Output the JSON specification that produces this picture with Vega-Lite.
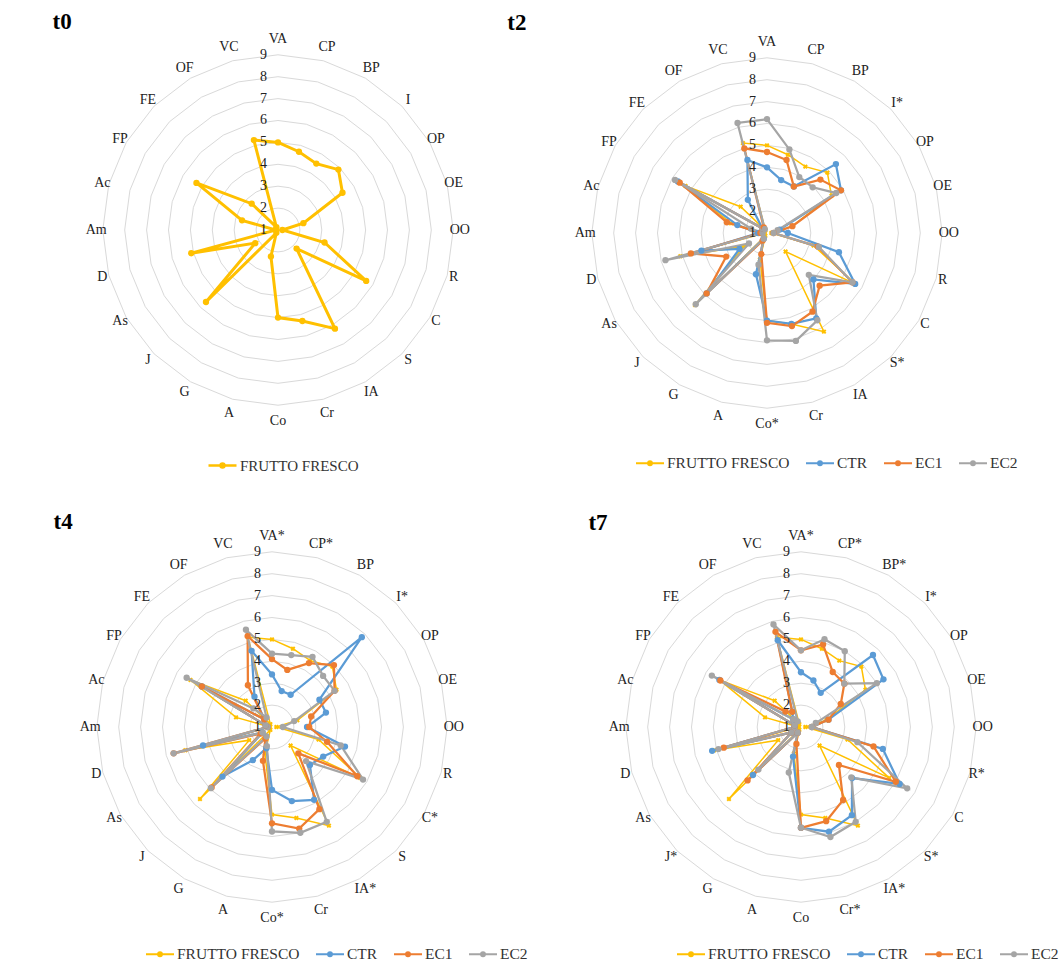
{
"$schema": "https://vega.github.io/schema/vega-lite/v6.json",
"padding": 0,
"background": "white",
"config": {"view": {"stroke": null}},
"datasets": {
"axes": [
{"axis":"VA","k":0},{"axis":"CP","k":1},{"axis":"BP","k":2},{"axis":"I","k":3},{"axis":"OP","k":4},{"axis":"OE","k":5},{"axis":"OO","k":6},{"axis":"R","k":7},{"axis":"C","k":8},{"axis":"S","k":9},{"axis":"IA","k":10},{"axis":"Cr","k":11},{"axis":"Co","k":12},{"axis":"A","k":13},{"axis":"G","k":14},{"axis":"J","k":15},{"axis":"As","k":16},{"axis":"D","k":17},{"axis":"Am","k":18},{"axis":"Ac","k":19},{"axis":"FP","k":20},{"axis":"FE","k":21},{"axis":"OF","k":22},{"axis":"VC","k":23}
],
"labels": [
{"axis":"VA","t0":"VA","t2":"VA","t4":"VA*","t7":"VA*"},
{"axis":"CP","t0":"CP","t2":"CP","t4":"CP*","t7":"CP*"},
{"axis":"BP","t0":"BP","t2":"BP","t4":"BP","t7":"BP*"},
{"axis":"I","t0":"I","t2":"I*","t4":"I*","t7":"I*"},
{"axis":"OP","t0":"OP","t2":"OP","t4":"OP","t7":"OP"},
{"axis":"OE","t0":"OE","t2":"OE","t4":"OE","t7":"OE"},
{"axis":"OO","t0":"OO","t2":"OO","t4":"OO","t7":"OO"},
{"axis":"R","t0":"R","t2":"R","t4":"R","t7":"R*"},
{"axis":"C","t0":"C","t2":"C","t4":"C*","t7":"C"},
{"axis":"S","t0":"S","t2":"S*","t4":"S","t7":"S*"},
{"axis":"IA","t0":"IA","t2":"IA","t4":"IA*","t7":"IA*"},
{"axis":"Cr","t0":"Cr","t2":"Cr","t4":"Cr","t7":"Cr*"},
{"axis":"Co","t0":"Co","t2":"Co*","t4":"Co*","t7":"Co"},
{"axis":"A","t0":"A","t2":"A","t4":"A","t7":"A"},
{"axis":"G","t0":"G","t2":"G","t4":"G","t7":"G"},
{"axis":"J","t0":"J","t2":"J","t4":"J","t7":"J*"},
{"axis":"As","t0":"As","t2":"As","t4":"As","t7":"As"},
{"axis":"D","t0":"D","t2":"D","t4":"D","t7":"D"},
{"axis":"Am","t0":"Am","t2":"Am","t4":"Am","t7":"Am"},
{"axis":"Ac","t0":"Ac","t2":"Ac","t4":"Ac","t7":"Ac"},
{"axis":"FP","t0":"FP","t2":"FP","t4":"FP","t7":"FP"},
{"axis":"FE","t0":"FE","t2":"FE","t4":"FE","t7":"FE"},
{"axis":"OF","t0":"OF","t2":"OF","t4":"OF","t7":"OF"},
{"axis":"VC","t0":"VC","t2":"VC","t4":"VC","t7":"VC"}
],
"rings": [
{"level":1,"k":[0,1,2,3,4,5,6,7,8,9,10,11,12,13,14,15,16,17,18,19,20,21,22,23]},
{"level":2,"k":[0,1,2,3,4,5,6,7,8,9,10,11,12,13,14,15,16,17,18,19,20,21,22,23]},
{"level":3,"k":[0,1,2,3,4,5,6,7,8,9,10,11,12,13,14,15,16,17,18,19,20,21,22,23]},
{"level":4,"k":[0,1,2,3,4,5,6,7,8,9,10,11,12,13,14,15,16,17,18,19,20,21,22,23]},
{"level":5,"k":[0,1,2,3,4,5,6,7,8,9,10,11,12,13,14,15,16,17,18,19,20,21,22,23]},
{"level":6,"k":[0,1,2,3,4,5,6,7,8,9,10,11,12,13,14,15,16,17,18,19,20,21,22,23]},
{"level":7,"k":[0,1,2,3,4,5,6,7,8,9,10,11,12,13,14,15,16,17,18,19,20,21,22,23]},
{"level":8,"k":[0,1,2,3,4,5,6,7,8,9,10,11,12,13,14,15,16,17,18,19,20,21,22,23]},
{"level":9,"k":[0,1,2,3,4,5,6,7,8,9,10,11,12,13,14,15,16,17,18,19,20,21,22,23]}
],
"vals": [
{"panel":"t0","axis":"VA","FRUTTO FRESCO":5.0},
{"panel":"t0","axis":"CP","FRUTTO FRESCO":4.7},
{"panel":"t0","axis":"BP","FRUTTO FRESCO":4.5},
{"panel":"t0","axis":"I","FRUTTO FRESCO":4.9},
{"panel":"t0","axis":"OP","FRUTTO FRESCO":4.4},
{"panel":"t0","axis":"OE","FRUTTO FRESCO":2.2},
{"panel":"t0","axis":"OO","FRUTTO FRESCO":1.2},
{"panel":"t0","axis":"R","FRUTTO FRESCO":3.2},
{"panel":"t0","axis":"C","FRUTTO FRESCO":5.65},
{"panel":"t0","axis":"S","FRUTTO FRESCO":2.2},
{"panel":"t0","axis":"IA","FRUTTO FRESCO":6.2},
{"panel":"t0","axis":"Cr","FRUTTO FRESCO":5.3},
{"panel":"t0","axis":"Co","FRUTTO FRESCO":5.0},
{"panel":"t0","axis":"A","FRUTTO FRESCO":2.25},
{"panel":"t0","axis":"G","FRUTTO FRESCO":1.15},
{"panel":"t0","axis":"J","FRUTTO FRESCO":5.65},
{"panel":"t0","axis":"As","FRUTTO FRESCO":2.2},
{"panel":"t0","axis":"D","FRUTTO FRESCO":5.1},
{"panel":"t0","axis":"Am","FRUTTO FRESCO":1.1},
{"panel":"t0","axis":"Ac","FRUTTO FRESCO":2.7},
{"panel":"t0","axis":"FP","FRUTTO FRESCO":5.3},
{"panel":"t0","axis":"FE","FRUTTO FRESCO":2.7},
{"panel":"t0","axis":"OF","FRUTTO FRESCO":1.15},
{"panel":"t0","axis":"VC","FRUTTO FRESCO":5.25},

{"panel":"t2","axis":"VA","FRUTTO FRESCO":5.0,"CTR":4.0,"EC1":4.7,"EC2":6.2},
{"panel":"t2","axis":"CP","FRUTTO FRESCO":4.7,"CTR":3.5,"EC1":4.45,"EC2":4.95},
{"panel":"t2","axis":"BP","FRUTTO FRESCO":4.5,"CTR":3.45,"EC1":3.45,"EC2":3.95},
{"panel":"t2","axis":"I","FRUTTO FRESCO":4.9,"CTR":5.45,"EC1":4.45,"EC2":3.95},
{"panel":"t2","axis":"OP","FRUTTO FRESCO":4.4,"CTR":4.9,"EC1":4.9,"EC2":4.65},
{"panel":"t2","axis":"OE","FRUTTO FRESCO":2.2,"CTR":1.6,"EC1":2.2,"EC2":1.5},
{"panel":"t2","axis":"OO","FRUTTO FRESCO":1.2,"CTR":1.95,"EC1":1.3,"EC2":1.3},
{"panel":"t2","axis":"R","FRUTTO FRESCO":3.2,"CTR":4.4,"EC1":3.4,"EC2":3.45},
{"panel":"t2","axis":"C","FRUTTO FRESCO":5.65,"CTR":5.65,"EC1":5.5,"EC2":5.5},
{"panel":"t2","axis":"S","FRUTTO FRESCO":2.2,"CTR":4.0,"EC1":4.4,"EC2":3.7},
{"panel":"t2","axis":"IA","FRUTTO FRESCO":6.2,"CTR":5.5,"EC1":5.15,"EC2":5.6},
{"panel":"t2","axis":"Cr","FRUTTO FRESCO":5.3,"CTR":5.3,"EC1":5.4,"EC2":6.1},
{"panel":"t2","axis":"Co","FRUTTO FRESCO":5.0,"CTR":5.0,"EC1":5.1,"EC2":5.9},
{"panel":"t2","axis":"A","FRUTTO FRESCO":2.25,"CTR":2.95,"EC1":2.0,"EC2":2.5},
{"panel":"t2","axis":"G","FRUTTO FRESCO":1.15,"CTR":1.3,"EC1":1.4,"EC2":1.3},
{"panel":"t2","axis":"J","FRUTTO FRESCO":5.65,"CTR":4.9,"EC1":4.9,"EC2":5.6},
{"panel":"t2","axis":"As","FRUTTO FRESCO":2.2,"CTR":2.45,"EC1":3.15,"EC2":1.95},
{"panel":"t2","axis":"D","FRUTTO FRESCO":5.1,"CTR":4.1,"EC1":4.6,"EC2":5.8},
{"panel":"t2","axis":"Am","FRUTTO FRESCO":1.1,"CTR":1.4,"EC1":1.3,"EC2":1.2},
{"panel":"t2","axis":"Ac","FRUTTO FRESCO":2.7,"CTR":2.4,"EC1":2.9,"EC2":1.75},
{"panel":"t2","axis":"FP","FRUTTO FRESCO":5.3,"CTR":5.7,"EC1":5.6,"EC2":5.85},
{"panel":"t2","axis":"FE","FRUTTO FRESCO":2.7,"CTR":1.3,"EC1":1.3,"EC2":1.3},
{"panel":"t2","axis":"OF","FRUTTO FRESCO":1.15,"CTR":2.75,"EC1":1.3,"EC2":1.2},
{"panel":"t2","axis":"VC","FRUTTO FRESCO":5.25,"CTR":4.45,"EC1":5.0,"EC2":6.2},

{"panel":"t4","axis":"VA","FRUTTO FRESCO":5.0,"CTR":3.4,"EC1":4.1,"EC2":4.35},
{"panel":"t4","axis":"CP","FRUTTO FRESCO":4.7,"CTR":2.7,"EC1":3.7,"EC2":4.4},
{"panel":"t4","axis":"BP","FRUTTO FRESCO":4.5,"CTR":2.7,"EC1":4.37,"EC2":4.7},
{"panel":"t4","axis":"I","FRUTTO FRESCO":4.9,"CTR":6.8,"EC1":5.0,"EC2":4.3},
{"panel":"t4","axis":"OP","FRUTTO FRESCO":4.4,"CTR":3.5,"EC1":4.3,"EC2":4.3},
{"panel":"t4","axis":"OE","FRUTTO FRESCO":2.2,"CTR":3.55,"EC1":2.85,"EC2":2.05},
{"panel":"t4","axis":"OO","FRUTTO FRESCO":1.2,"CTR":2.6,"EC1":2.7,"EC2":1.5},
{"panel":"t4","axis":"R","FRUTTO FRESCO":3.2,"CTR":4.45,"EC1":3.6,"EC2":4.25},
{"panel":"t4","axis":"C","FRUTTO FRESCO":5.65,"CTR":3.7,"EC1":5.5,"EC2":5.8},
{"panel":"t4","axis":"S","FRUTTO FRESCO":2.2,"CTR":3.45,"EC1":2.7,"EC2":3.2},
{"panel":"t4","axis":"IA","FRUTTO FRESCO":6.2,"CTR":4.84,"EC1":5.33,"EC2":6.0},
{"panel":"t4","axis":"Cr","FRUTTO FRESCO":5.3,"CTR":4.5,"EC1":5.8,"EC2":6.0},
{"panel":"t4","axis":"Co","FRUTTO FRESCO":5.0,"CTR":3.87,"EC1":5.4,"EC2":5.77},
{"panel":"t4","axis":"A","FRUTTO FRESCO":2.25,"CTR":2.0,"EC1":2.6,"EC2":1.9},
{"panel":"t4","axis":"G","FRUTTO FRESCO":1.15,"CTR":2.75,"EC1":1.6,"EC2":1.5},
{"panel":"t4","axis":"J","FRUTTO FRESCO":5.65,"CTR":4.2,"EC1":4.9,"EC2":4.95},
{"panel":"t4","axis":"As","FRUTTO FRESCO":2.2,"CTR":1.5,"EC1":1.6,"EC2":1.5},
{"panel":"t4","axis":"D","FRUTTO FRESCO":5.1,"CTR":4.26,"EC1":5.65,"EC2":5.65},
{"panel":"t4","axis":"Am","FRUTTO FRESCO":1.1,"CTR":1.2,"EC1":1.2,"EC2":1.2},
{"panel":"t4","axis":"Ac","FRUTTO FRESCO":2.7,"CTR":1.3,"EC1":1.3,"EC2":1.3},
{"panel":"t4","axis":"FP","FRUTTO FRESCO":5.3,"CTR":4.7,"EC1":4.7,"EC2":5.5},
{"panel":"t4","axis":"FE","FRUTTO FRESCO":2.7,"CTR":1.5,"EC1":1.5,"EC2":2.2},
{"panel":"t4","axis":"OF","FRUTTO FRESCO":1.15,"CTR":2.6,"EC1":3.2,"EC2":1.5},
{"panel":"t4","axis":"VC","FRUTTO FRESCO":5.25,"CTR":4.6,"EC1":5.3,"EC2":5.6},

{"panel":"t7","axis":"VA","FRUTTO FRESCO":5.0,"CTR":3.5,"EC1":4.5,"EC2":4.5},
{"panel":"t7","axis":"CP","FRUTTO FRESCO":4.7,"CTR":3.2,"EC1":4.9,"EC2":5.15},
{"panel":"t7","axis":"BP","FRUTTO FRESCO":4.5,"CTR":2.8,"EC1":3.9,"EC2":5.0},
{"panel":"t7","axis":"I","FRUTTO FRESCO":4.9,"CTR":5.65,"EC1":3.8,"EC2":3.8},
{"panel":"t7","axis":"OP","FRUTTO FRESCO":4.4,"CTR":5.35,"EC1":3.1,"EC2":5.0},
{"panel":"t7","axis":"OE","FRUTTO FRESCO":2.2,"CTR":2.3,"EC1":2.3,"EC2":1.7},
{"panel":"t7","axis":"OO","FRUTTO FRESCO":1.2,"CTR":1.5,"EC1":1.5,"EC2":1.5},
{"panel":"t7","axis":"R","FRUTTO FRESCO":3.2,"CTR":4.87,"EC1":4.43,"EC2":3.67},
{"panel":"t7","axis":"C","FRUTTO FRESCO":5.65,"CTR":6.2,"EC1":6.0,"EC2":6.6},
{"panel":"t7","axis":"S","FRUTTO FRESCO":2.2,"CTR":4.3,"EC1":3.45,"EC2":4.25},
{"panel":"t7","axis":"IA","FRUTTO FRESCO":6.2,"CTR":5.65,"EC1":4.85,"EC2":6.0},
{"panel":"t7","axis":"Cr","FRUTTO FRESCO":5.3,"CTR":5.95,"EC1":5.45,"EC2":6.2},
{"panel":"t7","axis":"Co","FRUTTO FRESCO":5.0,"CTR":5.6,"EC1":5.6,"EC2":5.6},
{"panel":"t7","axis":"A","FRUTTO FRESCO":2.25,"CTR":2.4,"EC1":1.8,"EC2":3.15},
{"panel":"t7","axis":"G","FRUTTO FRESCO":1.15,"CTR":1.3,"EC1":1.3,"EC2":1.3},
{"panel":"t7","axis":"J","FRUTTO FRESCO":5.65,"CTR":4.1,"EC1":4.45,"EC2":3.75},
{"panel":"t7","axis":"As","FRUTTO FRESCO":2.2,"CTR":1.5,"EC1":1.5,"EC2":1.5},
{"panel":"t7","axis":"D","FRUTTO FRESCO":5.1,"CTR":5.2,"EC1":4.65,"EC2":4.9},
{"panel":"t7","axis":"Am","FRUTTO FRESCO":1.1,"CTR":1.3,"EC1":1.3,"EC2":1.3},
{"panel":"t7","axis":"Ac","FRUTTO FRESCO":2.7,"CTR":1.3,"EC1":1.3,"EC2":1.3},
{"panel":"t7","axis":"FP","FRUTTO FRESCO":5.3,"CTR":5.3,"EC1":5.25,"EC2":5.7},
{"panel":"t7","axis":"FE","FRUTTO FRESCO":2.7,"CTR":1.5,"EC1":2.0,"EC2":1.5},
{"panel":"t7","axis":"OF","FRUTTO FRESCO":1.15,"CTR":1.8,"EC1":1.8,"EC2":1.3},
{"panel":"t7","axis":"VC","FRUTTO FRESCO":5.25,"CTR":5.1,"EC1":5.5,"EC2":5.85}
]
},
"spacing": 24,
"resolve": {"scale": {"color": "independent", "fill": "independent"}, "legend": {"color": "independent"}},
"vconcat": [
{
"hconcat": [
{
"width": 480, "height": 445,
"layer": [
{"data": {"name": "rings"},
 "transform": [{"filter": "datum.level > 1"}, {"flatten": ["k"]}, {"calculate": "datum.k * PI / 12", "as": "ang"}, {"calculate": "(datum.level - 1) * sin(datum.ang)", "as": "px"}, {"calculate": "(datum.level - 1) * cos(datum.ang)", "as": "py"}],
 "mark": {"type": "line", "interpolate": "linear-closed", "stroke": "#D9D9D9", "strokeWidth": 1},
 "encoding": {"x": {"field": "px", "type": "quantitative", "scale": {"domain": [-12.694, 9.224], "nice": false, "zero": false}, "axis": null},
  "y": {"field": "py", "type": "quantitative", "scale": {"domain": [-9.817, 10.502], "nice": false, "zero": false}, "axis": null},
  "detail": {"field": "level", "type": "nominal"}, "order": {"field": "k", "type": "quantitative"}}},
{"data": {"name": "vals"},
 "transform": [{"filter": "datum.panel === 't0'"}, {"fold": ["FRUTTO FRESCO", "CTR", "EC1", "EC2"], "as": ["series", "value"]}, {"filter": "isValid(datum.value)"}, {"lookup": "axis", "from": {"data": {"name": "axes"}, "key": "axis", "fields": ["k"]}}, {"calculate": "datum.k * PI / 12", "as": "ang"}, {"calculate": "(datum.value - 1) * sin(datum.ang)", "as": "px"}, {"calculate": "(datum.value - 1) * cos(datum.ang)", "as": "py"}],
 "mark": {"type": "line", "interpolate": "linear-closed", "strokeWidth": 3},
 "encoding": {"x": {"field": "px", "type": "quantitative"}, "y": {"field": "py", "type": "quantitative"}, "order": {"field": "k", "type": "quantitative"},
  "color": {"field": "series", "type": "nominal", "scale": {"domain": ["FRUTTO FRESCO"], "range": ["#FFC000"]},
   "legend": {"title": null, "orient": "none", "legendX": 207, "legendY": 450, "direction": "horizontal", "symbolType": "M-1,0L1,0M-0.14,0A0.14,0.14 0 1,0 0.14,0A0.14,0.14 0 1,0 -0.14,0M-0.06,0A0.06,0.06 0 1,0 0.06,0A0.06,0.06 0 1,0 -0.06,0", "symbolSize": 784, "symbolStrokeWidth": 2.5, "labelFont": "Liberation Serif", "labelFontSize": 15, "labelColor": "#333333", "labelOffset": 2, "columnPadding": 12}}}},
{"data": {"name": "vals"},
 "transform": [{"filter": "datum.panel === 't0'"}, {"fold": ["FRUTTO FRESCO"], "as": ["series", "value"]}, {"filter": "isValid(datum.value)"}, {"lookup": "axis", "from": {"data": {"name": "axes"}, "key": "axis", "fields": ["k"]}}, {"calculate": "datum.k * PI / 12", "as": "ang"}, {"calculate": "(datum.value - 1) * sin(datum.ang)", "as": "px"}, {"calculate": "(datum.value - 1) * cos(datum.ang)", "as": "py"}],
 "mark": {"type": "point", "filled": true, "shape": "circle", "size": 40, "opacity": 1, "color": "#FFC000"},
 "encoding": {"x": {"field": "px", "type": "quantitative"}, "y": {"field": "py", "type": "quantitative"}}},
{"data": {"name": "rings"},
 "transform": [{"calculate": "datum.level - 1", "as": "py"}],
 "mark": {"type": "text", "align": "right", "baseline": "middle", "dx": -11, "font": "Liberation Serif", "fontSize": 14, "color": "#222222"},
 "encoding": {"x": {"datum": 0}, "y": {"field": "py", "type": "quantitative"}, "text": {"field": "level", "type": "nominal"}}},
{"data": {"name": "labels"},
 "transform": [{"lookup": "axis", "from": {"data": {"name": "axes"}, "key": "axis", "fields": ["k"]}}, {"calculate": "datum.k * PI / 12", "as": "ang"}, {"calculate": "8.3 + 0.4 * pow(cos(datum.ang), 4)", "as": "lr"}, {"calculate": "datum.lr * sin(datum.ang)", "as": "px"}, {"calculate": "datum.lr * cos(datum.ang)", "as": "py"}],
 "mark": {"type": "text", "align": "center", "baseline": "middle", "font": "Liberation Serif", "fontSize": 14, "color": "#222222"},
 "encoding": {"x": {"field": "px", "type": "quantitative"}, "y": {"field": "py", "type": "quantitative"}, "text": {"field": "t0", "type": "nominal"}}},
{"data": {"values": [{}]},
 "mark": {"type": "text", "align": "center", "baseline": "middle", "font": "Liberation Serif", "fontSize": 23, "fontWeight": "bold", "color": "#000000"},
 "encoding": {"x": {"datum": -9.86}, "y": {"datum": 9.5}, "text": {"value": "t0"}}}
]
},
{
"width": 480, "height": 445,
"layer": [
{"data": {"name": "rings"},
 "transform": [{"filter": "datum.level > 1"}, {"flatten": ["k"]}, {"calculate": "datum.k * PI / 12", "as": "ang"}, {"calculate": "(datum.level - 1) * sin(datum.ang)", "as": "px"}, {"calculate": "(datum.level - 1) * cos(datum.ang)", "as": "py"}],
 "mark": {"type": "line", "interpolate": "linear-closed", "stroke": "#D9D9D9", "strokeWidth": 1},
 "encoding": {"x": {"field": "px", "type": "quantitative", "scale": {"domain": [-12.694, 9.224], "nice": false, "zero": false}, "axis": null},
  "y": {"field": "py", "type": "quantitative", "scale": {"domain": [-9.68, 10.639], "nice": false, "zero": false}, "axis": null},
  "detail": {"field": "level", "type": "nominal"}, "order": {"field": "k", "type": "quantitative"}}},
{"data": {"name": "vals"},
 "transform": [{"filter": "datum.panel === 't2'"}, {"fold": ["FRUTTO FRESCO"], "as": ["series", "value"]}, {"filter": "isValid(datum.value)"}, {"lookup": "axis", "from": {"data": {"name": "axes"}, "key": "axis", "fields": ["k"]}}, {"calculate": "datum.k * PI / 12", "as": "ang"}, {"calculate": "(datum.value - 1) * sin(datum.ang)", "as": "px"}, {"calculate": "(datum.value - 1) * cos(datum.ang)", "as": "py"}],
 "mark": {"type": "line", "interpolate": "linear-closed", "strokeWidth": 1.5},
 "encoding": {"x": {"field": "px", "type": "quantitative"}, "y": {"field": "py", "type": "quantitative"}, "order": {"field": "k", "type": "quantitative"},
  "color": {"field": "series", "type": "nominal", "scale": {"domain": ["FRUTTO FRESCO", "CTR", "EC1", "EC2"], "range": ["#FFC000", "#5B9BD5", "#ED7D31", "#A5A5A5"]},
   "legend": {"title": null, "orient": "none", "legendX": 146, "legendY": 448, "direction": "horizontal", "symbolType": "M-1,0L1,0M-0.14,0A0.14,0.14 0 1,0 0.14,0A0.14,0.14 0 1,0 -0.14,0M-0.06,0A0.06,0.06 0 1,0 0.06,0A0.06,0.06 0 1,0 -0.06,0", "symbolSize": 784, "symbolStrokeWidth": 2, "labelFont": "Liberation Serif", "labelFontSize": 15.5, "labelColor": "#333333", "labelOffset": 2, "columnPadding": 12}}}},
{"data": {"name": "vals"},
 "transform": [{"filter": "datum.panel === 't2'"}, {"fold": ["FRUTTO FRESCO"], "as": ["series", "value"]}, {"filter": "isValid(datum.value)"}, {"lookup": "axis", "from": {"data": {"name": "axes"}, "key": "axis", "fields": ["k"]}}, {"calculate": "datum.k * PI / 12", "as": "ang"}, {"calculate": "(datum.value - 1) * sin(datum.ang)", "as": "px"}, {"calculate": "(datum.value - 1) * cos(datum.ang)", "as": "py"}],
 "mark": {"type": "point", "filled": true, "shape": "cross", "angle": 45, "size": 25, "opacity": 1, "color": "#FFC000"},
 "encoding": {"x": {"field": "px", "type": "quantitative"}, "y": {"field": "py", "type": "quantitative"}}},
{"data": {"name": "vals"},
 "transform": [{"filter": "datum.panel === 't2'"}, {"fold": ["CTR", "EC1", "EC2"], "as": ["series", "value"]}, {"filter": "isValid(datum.value)"}, {"lookup": "axis", "from": {"data": {"name": "axes"}, "key": "axis", "fields": ["k"]}}, {"calculate": "datum.k * PI / 12", "as": "ang"}, {"calculate": "(datum.value - 1) * sin(datum.ang)", "as": "px"}, {"calculate": "(datum.value - 1) * cos(datum.ang)", "as": "py"}],
 "mark": {"type": "line", "interpolate": "linear-closed", "strokeWidth": 2.25},
 "encoding": {"x": {"field": "px", "type": "quantitative"}, "y": {"field": "py", "type": "quantitative"}, "order": {"field": "k", "type": "quantitative"},
  "color": {"field": "series", "type": "nominal", "scale": {"domain": ["FRUTTO FRESCO", "CTR", "EC1", "EC2"], "range": ["#FFC000", "#5B9BD5", "#ED7D31", "#A5A5A5"]}}}},
{"data": {"name": "vals"},
 "transform": [{"filter": "datum.panel === 't2'"}, {"fold": ["CTR", "EC1", "EC2"], "as": ["series", "value"]}, {"filter": "isValid(datum.value)"}, {"lookup": "axis", "from": {"data": {"name": "axes"}, "key": "axis", "fields": ["k"]}}, {"calculate": "datum.k * PI / 12", "as": "ang"}, {"calculate": "(datum.value - 1) * sin(datum.ang)", "as": "px"}, {"calculate": "(datum.value - 1) * cos(datum.ang)", "as": "py"}],
 "mark": {"type": "point", "filled": true, "shape": "circle", "size": 40, "opacity": 1},
 "encoding": {"x": {"field": "px", "type": "quantitative"}, "y": {"field": "py", "type": "quantitative"},
  "fill": {"field": "series", "type": "nominal", "scale": {"domain": ["CTR", "EC1", "EC2"], "range": ["#5B9BD5", "#ED7D31", "#A5A5A5"]}, "legend": null}}},
{"data": {"name": "rings"},
 "transform": [{"calculate": "datum.level - 1", "as": "py"}],
 "mark": {"type": "text", "align": "right", "baseline": "middle", "dx": -11, "font": "Liberation Serif", "fontSize": 14, "color": "#222222"},
 "encoding": {"x": {"datum": 0}, "y": {"field": "py", "type": "quantitative"}, "text": {"field": "level", "type": "nominal"}}},
{"data": {"name": "labels"},
 "transform": [{"lookup": "axis", "from": {"data": {"name": "axes"}, "key": "axis", "fields": ["k"]}}, {"calculate": "datum.k * PI / 12", "as": "ang"}, {"calculate": "8.3 + 0.4 * pow(cos(datum.ang), 4)", "as": "lr"}, {"calculate": "datum.lr * sin(datum.ang)", "as": "px"}, {"calculate": "datum.lr * cos(datum.ang)", "as": "py"}],
 "mark": {"type": "text", "align": "center", "baseline": "middle", "font": "Liberation Serif", "fontSize": 14, "color": "#222222"},
 "encoding": {"x": {"field": "px", "type": "quantitative"}, "y": {"field": "py", "type": "quantitative"}, "text": {"field": "t2", "type": "nominal"}}},
{"data": {"values": [{}]},
 "mark": {"type": "text", "align": "center", "baseline": "middle", "font": "Liberation Serif", "fontSize": 23, "fontWeight": "bold", "color": "#000000"},
 "encoding": {"x": {"datum": -11.42}, "y": {"datum": 9.59}, "text": {"value": "t2"}}}
]
}
],
"spacing": 9,
"resolve": {"scale": {"color": "independent", "fill": "independent"}, "legend": {"color": "independent"}}
},
{
"hconcat": [
{
"width": 529, "height": 445,
"layer": [
{"data": {"name": "rings"},
 "transform": [{"filter": "datum.level > 1"}, {"flatten": ["k"]}, {"calculate": "datum.k * PI / 12", "as": "ang"}, {"calculate": "(datum.level - 1) * sin(datum.ang)", "as": "px"}, {"calculate": "(datum.level - 1) * cos(datum.ang)", "as": "py"}],
 "mark": {"type": "line", "interpolate": "linear-closed", "stroke": "#D9D9D9", "strokeWidth": 1},
 "encoding": {"x": {"field": "px", "type": "quantitative", "scale": {"domain": [-12.42, 11.735], "nice": false, "zero": false}, "axis": null},
  "y": {"field": "py", "type": "quantitative", "scale": {"domain": [-9.863, 10.457], "nice": false, "zero": false}, "axis": null},
  "detail": {"field": "level", "type": "nominal"}, "order": {"field": "k", "type": "quantitative"}}},
{"data": {"name": "vals"},
 "transform": [{"filter": "datum.panel === 't4'"}, {"fold": ["FRUTTO FRESCO"], "as": ["series", "value"]}, {"filter": "isValid(datum.value)"}, {"lookup": "axis", "from": {"data": {"name": "axes"}, "key": "axis", "fields": ["k"]}}, {"calculate": "datum.k * PI / 12", "as": "ang"}, {"calculate": "(datum.value - 1) * sin(datum.ang)", "as": "px"}, {"calculate": "(datum.value - 1) * cos(datum.ang)", "as": "py"}],
 "mark": {"type": "line", "interpolate": "linear-closed", "strokeWidth": 1.5},
 "encoding": {"x": {"field": "px", "type": "quantitative"}, "y": {"field": "py", "type": "quantitative"}, "order": {"field": "k", "type": "quantitative"},
  "color": {"field": "series", "type": "nominal", "scale": {"domain": ["FRUTTO FRESCO", "CTR", "EC1", "EC2"], "range": ["#FFC000", "#5B9BD5", "#ED7D31", "#A5A5A5"]},
   "legend": {"title": null, "orient": "none", "legendX": 145, "legendY": 441, "direction": "horizontal", "symbolType": "M-1,0L1,0M-0.14,0A0.14,0.14 0 1,0 0.14,0A0.14,0.14 0 1,0 -0.14,0M-0.06,0A0.06,0.06 0 1,0 0.06,0A0.06,0.06 0 1,0 -0.06,0", "symbolSize": 784, "symbolStrokeWidth": 2, "labelFont": "Liberation Serif", "labelFontSize": 15.5, "labelColor": "#333333", "labelOffset": 2, "columnPadding": 12}}}},
{"data": {"name": "vals"},
 "transform": [{"filter": "datum.panel === 't4'"}, {"fold": ["FRUTTO FRESCO"], "as": ["series", "value"]}, {"filter": "isValid(datum.value)"}, {"lookup": "axis", "from": {"data": {"name": "axes"}, "key": "axis", "fields": ["k"]}}, {"calculate": "datum.k * PI / 12", "as": "ang"}, {"calculate": "(datum.value - 1) * sin(datum.ang)", "as": "px"}, {"calculate": "(datum.value - 1) * cos(datum.ang)", "as": "py"}],
 "mark": {"type": "point", "filled": true, "shape": "cross", "angle": 45, "size": 25, "opacity": 1, "color": "#FFC000"},
 "encoding": {"x": {"field": "px", "type": "quantitative"}, "y": {"field": "py", "type": "quantitative"}}},
{"data": {"name": "vals"},
 "transform": [{"filter": "datum.panel === 't4'"}, {"fold": ["CTR", "EC1", "EC2"], "as": ["series", "value"]}, {"filter": "isValid(datum.value)"}, {"lookup": "axis", "from": {"data": {"name": "axes"}, "key": "axis", "fields": ["k"]}}, {"calculate": "datum.k * PI / 12", "as": "ang"}, {"calculate": "(datum.value - 1) * sin(datum.ang)", "as": "px"}, {"calculate": "(datum.value - 1) * cos(datum.ang)", "as": "py"}],
 "mark": {"type": "line", "interpolate": "linear-closed", "strokeWidth": 2.25},
 "encoding": {"x": {"field": "px", "type": "quantitative"}, "y": {"field": "py", "type": "quantitative"}, "order": {"field": "k", "type": "quantitative"},
  "color": {"field": "series", "type": "nominal", "scale": {"domain": ["FRUTTO FRESCO", "CTR", "EC1", "EC2"], "range": ["#FFC000", "#5B9BD5", "#ED7D31", "#A5A5A5"]}}}},
{"data": {"name": "vals"},
 "transform": [{"filter": "datum.panel === 't4'"}, {"fold": ["CTR", "EC1", "EC2"], "as": ["series", "value"]}, {"filter": "isValid(datum.value)"}, {"lookup": "axis", "from": {"data": {"name": "axes"}, "key": "axis", "fields": ["k"]}}, {"calculate": "datum.k * PI / 12", "as": "ang"}, {"calculate": "(datum.value - 1) * sin(datum.ang)", "as": "px"}, {"calculate": "(datum.value - 1) * cos(datum.ang)", "as": "py"}],
 "mark": {"type": "point", "filled": true, "shape": "circle", "size": 40, "opacity": 1},
 "encoding": {"x": {"field": "px", "type": "quantitative"}, "y": {"field": "py", "type": "quantitative"},
  "fill": {"field": "series", "type": "nominal", "scale": {"domain": ["CTR", "EC1", "EC2"], "range": ["#5B9BD5", "#ED7D31", "#A5A5A5"]}, "legend": null}}},
{"data": {"name": "rings"},
 "transform": [{"calculate": "datum.level - 1", "as": "py"}],
 "mark": {"type": "text", "align": "right", "baseline": "middle", "dx": -11, "font": "Liberation Serif", "fontSize": 14, "color": "#222222"},
 "encoding": {"x": {"datum": 0}, "y": {"field": "py", "type": "quantitative"}, "text": {"field": "level", "type": "nominal"}}},
{"data": {"name": "labels"},
 "transform": [{"lookup": "axis", "from": {"data": {"name": "axes"}, "key": "axis", "fields": ["k"]}}, {"calculate": "datum.k * PI / 12", "as": "ang"}, {"calculate": "8.3 + 0.4 * pow(cos(datum.ang), 4)", "as": "lr"}, {"calculate": "datum.lr * sin(datum.ang)", "as": "px"}, {"calculate": "datum.lr * cos(datum.ang)", "as": "py"}],
 "mark": {"type": "text", "align": "center", "baseline": "middle", "font": "Liberation Serif", "fontSize": 14, "color": "#222222"},
 "encoding": {"x": {"field": "px", "type": "quantitative"}, "y": {"field": "py", "type": "quantitative"}, "text": {"field": "t4", "type": "nominal"}}},
{"data": {"values": [{}]},
 "mark": {"type": "text", "align": "center", "baseline": "middle", "font": "Liberation Serif", "fontSize": 23, "fontWeight": "bold", "color": "#000000"},
 "encoding": {"x": {"datum": -9.54}, "y": {"datum": 9.36}, "text": {"value": "t4"}}}
]
},
{
"width": 480, "height": 445,
"layer": [
{"data": {"name": "rings"},
 "transform": [{"filter": "datum.level > 1"}, {"flatten": ["k"]}, {"calculate": "datum.k * PI / 12", "as": "ang"}, {"calculate": "(datum.level - 1) * sin(datum.ang)", "as": "px"}, {"calculate": "(datum.level - 1) * cos(datum.ang)", "as": "py"}],
 "mark": {"type": "line", "interpolate": "linear-closed", "stroke": "#D9D9D9", "strokeWidth": 1},
 "encoding": {"x": {"field": "px", "type": "quantitative", "scale": {"domain": [-12.42, 9.5], "nice": false, "zero": false}, "axis": null},
  "y": {"field": "py", "type": "quantitative", "scale": {"domain": [-9.863, 10.457], "nice": false, "zero": false}, "axis": null},
  "detail": {"field": "level", "type": "nominal"}, "order": {"field": "k", "type": "quantitative"}}},
{"data": {"name": "vals"},
 "transform": [{"filter": "datum.panel === 't7'"}, {"fold": ["FRUTTO FRESCO"], "as": ["series", "value"]}, {"filter": "isValid(datum.value)"}, {"lookup": "axis", "from": {"data": {"name": "axes"}, "key": "axis", "fields": ["k"]}}, {"calculate": "datum.k * PI / 12", "as": "ang"}, {"calculate": "(datum.value - 1) * sin(datum.ang)", "as": "px"}, {"calculate": "(datum.value - 1) * cos(datum.ang)", "as": "py"}],
 "mark": {"type": "line", "interpolate": "linear-closed", "strokeWidth": 1.5},
 "encoding": {"x": {"field": "px", "type": "quantitative"}, "y": {"field": "py", "type": "quantitative"}, "order": {"field": "k", "type": "quantitative"},
  "color": {"field": "series", "type": "nominal", "scale": {"domain": ["FRUTTO FRESCO", "CTR", "EC1", "EC2"], "range": ["#FFC000", "#5B9BD5", "#ED7D31", "#A5A5A5"]},
   "legend": {"title": null, "orient": "none", "legendX": 147, "legendY": 441, "direction": "horizontal", "symbolType": "M-1,0L1,0M-0.14,0A0.14,0.14 0 1,0 0.14,0A0.14,0.14 0 1,0 -0.14,0M-0.06,0A0.06,0.06 0 1,0 0.06,0A0.06,0.06 0 1,0 -0.06,0", "symbolSize": 784, "symbolStrokeWidth": 2, "labelFont": "Liberation Serif", "labelFontSize": 15.5, "labelColor": "#333333", "labelOffset": 2, "columnPadding": 12}}}},
{"data": {"name": "vals"},
 "transform": [{"filter": "datum.panel === 't7'"}, {"fold": ["FRUTTO FRESCO"], "as": ["series", "value"]}, {"filter": "isValid(datum.value)"}, {"lookup": "axis", "from": {"data": {"name": "axes"}, "key": "axis", "fields": ["k"]}}, {"calculate": "datum.k * PI / 12", "as": "ang"}, {"calculate": "(datum.value - 1) * sin(datum.ang)", "as": "px"}, {"calculate": "(datum.value - 1) * cos(datum.ang)", "as": "py"}],
 "mark": {"type": "point", "filled": true, "shape": "cross", "angle": 45, "size": 25, "opacity": 1, "color": "#FFC000"},
 "encoding": {"x": {"field": "px", "type": "quantitative"}, "y": {"field": "py", "type": "quantitative"}}},
{"data": {"name": "vals"},
 "transform": [{"filter": "datum.panel === 't7'"}, {"fold": ["CTR", "EC1", "EC2"], "as": ["series", "value"]}, {"filter": "isValid(datum.value)"}, {"lookup": "axis", "from": {"data": {"name": "axes"}, "key": "axis", "fields": ["k"]}}, {"calculate": "datum.k * PI / 12", "as": "ang"}, {"calculate": "(datum.value - 1) * sin(datum.ang)", "as": "px"}, {"calculate": "(datum.value - 1) * cos(datum.ang)", "as": "py"}],
 "mark": {"type": "line", "interpolate": "linear-closed", "strokeWidth": 2.25},
 "encoding": {"x": {"field": "px", "type": "quantitative"}, "y": {"field": "py", "type": "quantitative"}, "order": {"field": "k", "type": "quantitative"},
  "color": {"field": "series", "type": "nominal", "scale": {"domain": ["FRUTTO FRESCO", "CTR", "EC1", "EC2"], "range": ["#FFC000", "#5B9BD5", "#ED7D31", "#A5A5A5"]}}}},
{"data": {"name": "vals"},
 "transform": [{"filter": "datum.panel === 't7'"}, {"fold": ["CTR", "EC1", "EC2"], "as": ["series", "value"]}, {"filter": "isValid(datum.value)"}, {"lookup": "axis", "from": {"data": {"name": "axes"}, "key": "axis", "fields": ["k"]}}, {"calculate": "datum.k * PI / 12", "as": "ang"}, {"calculate": "(datum.value - 1) * sin(datum.ang)", "as": "px"}, {"calculate": "(datum.value - 1) * cos(datum.ang)", "as": "py"}],
 "mark": {"type": "point", "filled": true, "shape": "circle", "size": 40, "opacity": 1},
 "encoding": {"x": {"field": "px", "type": "quantitative"}, "y": {"field": "py", "type": "quantitative"},
  "fill": {"field": "series", "type": "nominal", "scale": {"domain": ["CTR", "EC1", "EC2"], "range": ["#5B9BD5", "#ED7D31", "#A5A5A5"]}, "legend": null}}},
{"data": {"name": "rings"},
 "transform": [{"calculate": "datum.level - 1", "as": "py"}],
 "mark": {"type": "text", "align": "right", "baseline": "middle", "dx": -11, "font": "Liberation Serif", "fontSize": 14, "color": "#222222"},
 "encoding": {"x": {"datum": 0}, "y": {"field": "py", "type": "quantitative"}, "text": {"field": "level", "type": "nominal"}}},
{"data": {"name": "labels"},
 "transform": [{"lookup": "axis", "from": {"data": {"name": "axes"}, "key": "axis", "fields": ["k"]}}, {"calculate": "datum.k * PI / 12", "as": "ang"}, {"calculate": "8.3 + 0.4 * pow(cos(datum.ang), 4)", "as": "lr"}, {"calculate": "datum.lr * sin(datum.ang)", "as": "px"}, {"calculate": "datum.lr * cos(datum.ang)", "as": "py"}],
 "mark": {"type": "text", "align": "center", "baseline": "middle", "font": "Liberation Serif", "fontSize": 14, "color": "#222222"},
 "encoding": {"x": {"field": "px", "type": "quantitative"}, "y": {"field": "py", "type": "quantitative"}, "text": {"field": "t7", "type": "nominal"}}},
{"data": {"values": [{}]},
 "mark": {"type": "text", "align": "center", "baseline": "middle", "font": "Liberation Serif", "fontSize": 23, "fontWeight": "bold", "color": "#000000"},
 "encoding": {"x": {"datum": -9.27}, "y": {"datum": 9.32}, "text": {"value": "t7"}}}
]
}
],
"spacing": 0,
"resolve": {"scale": {"color": "independent", "fill": "independent"}, "legend": {"color": "independent"}}
}
]
}
